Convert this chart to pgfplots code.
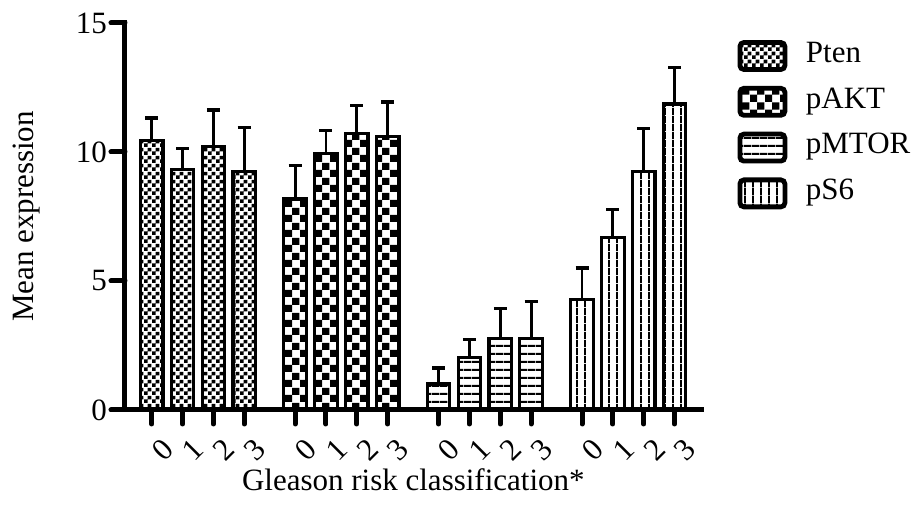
\documentclass[border=0pt]{standalone}
\usepackage{fontspec}
\setmainfont{Liberation Serif}
\usepackage{pgfplots}
\pgfplotsset{compat=1.18}
\usetikzlibrary{patterns}

\pgfdeclarepatternformonly{finecheck}{\pgfpointorigin}{\pgfqpoint{4pt}{4pt}}{\pgfqpoint{4pt}{4pt}}{%
 \pgfpathrectangle{\pgfpointorigin}{\pgfqpoint{2.05pt}{2.05pt}}%
 \pgfpathrectangle{\pgfqpoint{2pt}{2pt}}{\pgfqpoint{2.05pt}{2.05pt}}%
 \pgfusepath{fill}}
\pgfdeclarepatternformonly{bigcheck}{\pgfpointorigin}{\pgfqpoint{7.5pt}{7.5pt}}{\pgfqpoint{7.5pt}{7.5pt}}{%
 \pgfpathrectangle{\pgfpointorigin}{\pgfqpoint{3.8pt}{3.8pt}}%
 \pgfpathrectangle{\pgfqpoint{3.75pt}{3.75pt}}{\pgfqpoint{3.8pt}{3.8pt}}%
 \pgfusepath{fill}}
\pgfdeclarepatternformonly{hlines}{\pgfpointorigin}{\pgfqpoint{4pt}{4pt}}{\pgfqpoint{4pt}{4pt}}{%
 \pgfpathrectangle{\pgfpointorigin}{\pgfqpoint{4.05pt}{1.2pt}}%
 \pgfusepath{fill}}
\pgfdeclarepatternformonly{vlines}{\pgfpointorigin}{\pgfqpoint{4pt}{4pt}}{\pgfqpoint{4pt}{4pt}}{%
 \pgfpathrectangle{\pgfpointorigin}{\pgfqpoint{1.1pt}{4.05pt}}%
 \pgfusepath{fill}}

\newcommand{\fs}{\fontsize{15.5}{18}\selectfont}

\begin{document}
\begin{tikzpicture}
\path[use as bounding box] (-62.5pt,-48.5pt) rectangle (396pt,205pt);
\begin{axis}[
 at={(0,0)}, anchor=south west,
 scale only axis, width=288.35pt, height=193.5pt,
 xmin=-0.8655, xmax=17.83, ymin=0, ymax=15,
 clip=false,
 axis x line=bottom, axis y line=left,
 axis line style={-, line width=2.5pt, line cap=rect},
 tick align=outside,
 major tick length=7pt,
 tick style={line width=2.5pt, black, line cap=round},
 ytick={0,5,10,15},
 xtick={0,1,2,3,4.65,5.65,6.65,7.65,9.3,10.3,11.3,12.3,13.95,14.95,15.95,16.95},
 xticklabels={0,1,2,3,0,1,2,3,0,1,2,3,0,1,2,3},
 /pgf/number format/assume math mode=true,
 font=\fs,
 tick label style={font=\fs},
 xticklabel style={rotate=45, anchor=center, xshift=-5.5pt, yshift=-13pt},
 yticklabel style={anchor=east, xshift=1.5pt},
 xlabel={Gleason risk classification*},
 ylabel={Mean expression},
 every axis x label/.style={at={(axis description cs:0.5,-0.2093)}, anchor=base, font=\fs},
 every axis y label/.style={at={(axis description cs:-0.1595,0.5)}, rotate=90, anchor=base, font=\fs},
 every axis plot post/.append style={legend image code/.code={%
   \draw[##1, line width=2.4pt, rounded corners=2pt] (0pt,-8pt) rectangle (22.5pt,5.5pt);}},
 legend style={draw=none, fill=none, at={(1,1)}, anchor=north west,
   xshift=17.7pt, yshift=-8.35pt, inner sep=0pt, row sep=7pt, column sep=0pt,
   font=\fs, nodes={inner sep=0pt, inner xsep=0pt}},
 legend cell align=left,
]
\addplot[ybar, bar width=0.73, bar shift=0pt, draw=black, line width=1.6pt, pattern=finecheck,
  error bars/.cd, y dir=plus, y explicit,
  error bar style={line width=1.4pt, black},
  error mark options={rotate=90, line width=1.6pt, mark size=3.25pt, black}]
 table[x=x, y=y, y error=e] {
x y e
0 10.44 0.88
1 9.32 0.81
2 10.22 1.41
3 9.23 1.72
};
\addlegendentry{\hspace{9.3pt}Pten}
\addplot[ybar, bar width=0.73, bar shift=0pt, draw=black, line width=1.6pt, pattern=bigcheck,
  error bars/.cd, y dir=plus, y explicit,
  error bar style={line width=1.4pt, black},
  error mark options={rotate=90, line width=1.6pt, mark size=3.25pt, black}]
 table[x=x, y=y, y error=e] {
x y e
4.65 8.18 1.29
5.65 9.95 0.88
6.65 10.73 1.08
7.65 10.61 1.33
};
\addlegendentry{\hspace{9.3pt}pAKT}
\addplot[ybar, bar width=0.73, bar shift=0pt, draw=black, line width=1.6pt, pattern=hlines,
  error bars/.cd, y dir=plus, y explicit,
  error bar style={line width=1.4pt, black},
  error mark options={rotate=90, line width=1.6pt, mark size=3.25pt, black}]
 table[x=x, y=y, y error=e] {
x y e
9.3 1.01 0.62
10.3 2.02 0.72
11.3 2.77 1.16
12.3 2.77 1.44
};
\addlegendentry{\hspace{9.3pt}pMTOR}
\addplot[ybar, bar width=0.73, bar shift=0pt, draw=black, line width=1.6pt, pattern=vlines,
  error bars/.cd, y dir=plus, y explicit,
  error bar style={line width=1.4pt, black},
  error mark options={rotate=90, line width=1.6pt, mark size=3.25pt, black}]
 table[x=x, y=y, y error=e] {
x y e
13.95 4.28 1.22
14.95 6.69 1.08
15.95 9.23 1.68
16.95 11.86 1.40
};
\addlegendentry{\hspace{9.3pt}pS6}
\end{axis}
\end{tikzpicture}
\end{document}
